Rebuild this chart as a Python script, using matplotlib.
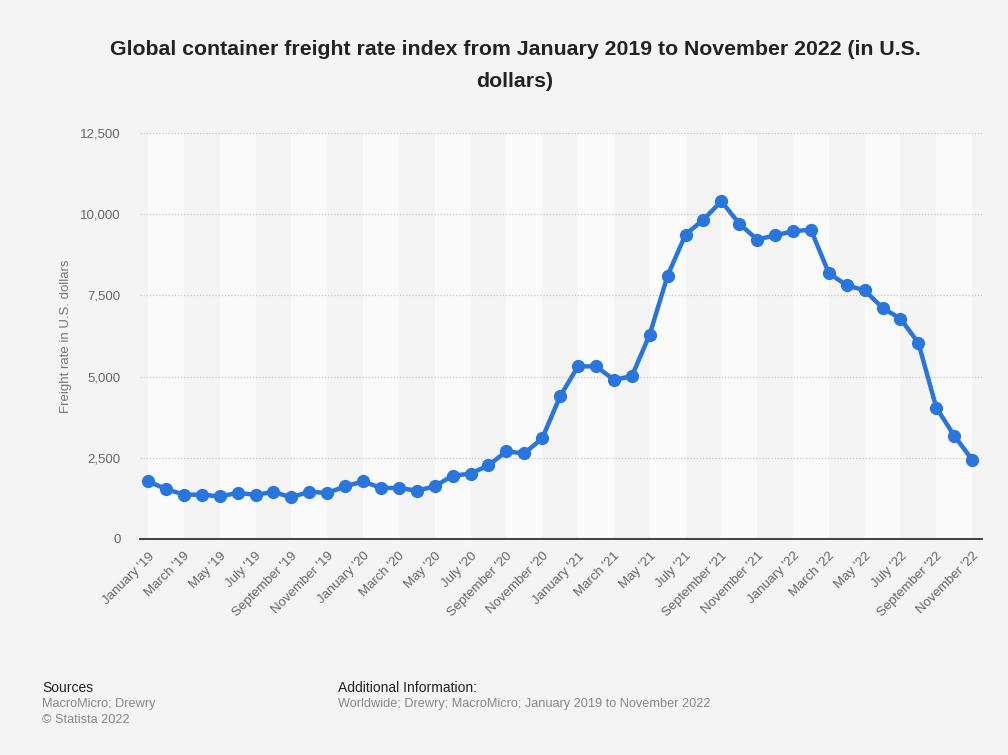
import matplotlib
matplotlib.use("Agg")
import matplotlib.pyplot as plt
import numpy as np

plt.rcParams['font.family'] = ['Liberation Sans', 'DejaVu Sans']

# Monthly index values, January 2019 - November 2022 (USD per 40ft container)
months = ['January', 'February', 'March', 'April', 'May', 'June', 'July',
          'August', 'September', 'October', 'November', 'December']
years = ['19', '20', '21', '22']
rate_2019 = [1774, 1540, 1364, 1364, 1312, 1417, 1364, 1448, 1281, 1457, 1417, 1620]
rate_2020 = [1774, 1571, 1571, 1488, 1620, 1950, 2011, 2267, 2698, 2636, 3098, 4392]
rate_2021 = [5316, 5316, 4906, 5008, 6292, 8110, 9373, 9834, 10398, 9711, 9218, 9351]
rate_2022 = [9474, 9526, 8184, 7811, 7657, 7115, 6785, 6037, 4044, 3182, 2442]

values = rate_2019 + rate_2020 + rate_2021 + rate_2022
labels = [f"{m} '{y}" for y in years for m in months][:len(values)]
y_ticks = [0, 2500, 5000, 7500, 10000, 12500]

bg = '#f4f4f4'
fig = plt.figure(figsize=(10.08, 7.55), dpi=100, facecolor=bg)
ax = fig.add_axes([0.1389, 0.2861, 0.8353, 0.5377], facecolor=bg)

x = np.arange(len(values))

# alternating two-month column shading
for start in range(0, len(values) - 1, 4):
    ax.axvspan(start, start + 2, color='#fafafa', zorder=0, lw=0)

ax.plot(x, values, color='#2876dd', lw=3.2, marker='o', ms=8.5,
        solid_capstyle='round', solid_joinstyle='round', zorder=3)

ax.set_xlim(-0.45, len(values) - 0.45)
ax.set_ylim(0, 12500)
ax.set_yticks(y_ticks)
ax.set_yticklabels([f"{v:,}" for v in y_ticks])
ax.yaxis.grid(True, color='#c8c8c8', linestyle=(0, (1, 1.5)), lw=0.9, zorder=1)
ax.set_axisbelow(True)

ax.set_xticks(x[::2])
ax.set_xticklabels(labels[::2], rotation=45, ha='right', rotation_mode='anchor')

for s in ['top', 'right', 'left']:
    ax.spines[s].set_visible(False)
ax.spines['bottom'].set_color('#333333')
ax.spines['bottom'].set_linewidth(1.3)
ax.spines['bottom'].set_zorder(4)

ax.tick_params(axis='both', length=0, labelsize=9.5, labelcolor='#666666')
ax.tick_params(axis='y', pad=14)
ax.tick_params(axis='x', pad=8)

ax.set_ylabel('Freight rate in U.S. dollars', fontsize=9.5, color='#777777', labelpad=6)

fig.text(0.511, 0.935, 'Global container freight rate index from January 2019 to November 2022 (in U.S.',
         ha='center', va='center', fontsize=15.3, fontweight='bold', color='#222222')
fig.text(0.511, 0.892, 'dollars)', ha='center', va='center', fontsize=15.3,
         fontweight='bold', color='#222222')

fig.text(0.042, 0.089, 'Sources', fontsize=10, color='#222222', va='center')
fig.text(0.042, 0.068, 'MacroMicro; Drewry', fontsize=9.2, color='#888888', va='center')
fig.text(0.042, 0.047, '\u00a9 Statista 2022', fontsize=9.2, color='#888888', va='center')
fig.text(0.335, 0.089, 'Additional Information:', fontsize=10, color='#222222', va='center')
fig.text(0.335, 0.068, 'Worldwide; Drewry; MacroMicro; January 2019 to November 2022',
         fontsize=9.2, color='#888888', va='center')

fig.savefig('out.png', dpi=100, facecolor=bg)
